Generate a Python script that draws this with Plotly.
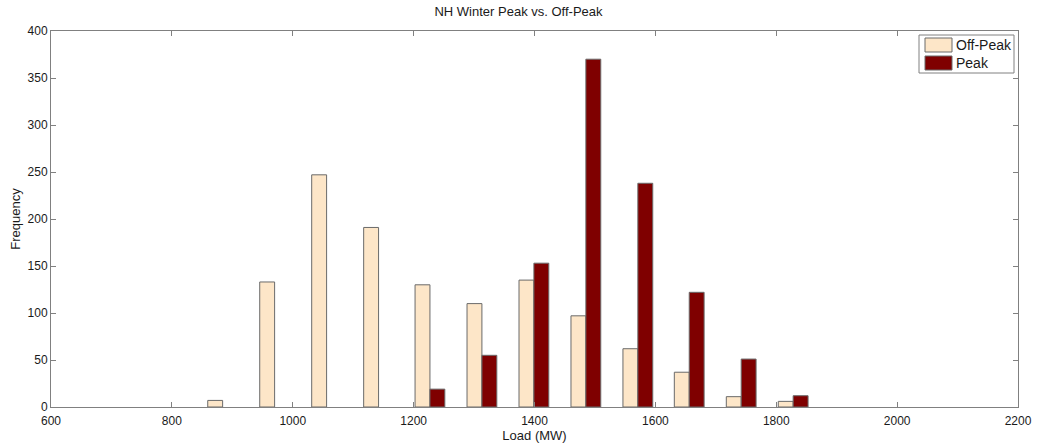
import plotly.graph_objects as go

# Histogram bin centres (MW) and counts per bin (None = empty bin)
bin_centers = [884, 970, 1056, 1142, 1227, 1313, 1399, 1485, 1571, 1656, 1742, 1828]
off_peak = [7, 133, 247, 191, 130, 110, 135, 97, 62, 37, 11, 6]
peak = [None, None, None, None, 19, 55, 153, 370, 238, 122, 51, 12]
series_names = ["Off-Peak", "Peak"]
series_colors = ["#FDE6C8", "#7F0000"]

x_ticks = [600, 800, 1000, 1200, 1400, 1600, 1800, 2000, 2200]
y_ticks = [0, 50, 100, 150, 200, 250, 300, 350, 400]

W, H = 1037, 443
M = dict(l=51, r=19, t=31, b=36)
edge = dict(color="#6a6a6a", width=1)
axis_gray = "#808080"
font_family = "Liberation Sans, Arial, sans-serif"

fig = go.Figure()
for name, color, vals in zip(series_names, series_colors, [off_peak, peak]):
    fig.add_trace(go.Bar(x=bin_centers, y=vals, name=name, showlegend=False,
                         marker=dict(color=color, line=edge)))

common_axis = dict(
    showgrid=False, zeroline=False, showline=True, linecolor=axis_gray,
    linewidth=1, mirror="ticks", ticks="inside", ticklen=5,
    tickcolor=axis_gray, tickfont=dict(size=12, color="#1a1a1a"),
    automargin=False,
)

# MATLAB-style legend box with wide colour patches (pixel -> paper helpers)
pw, ph = W - M["l"] - M["r"], H - M["t"] - M["b"]
def px(x):
    return (x - M["l"]) / pw
def py(y):
    return (H - M["b"] - y) / ph

shapes = [dict(type="rect", xref="paper", yref="paper",
               x0=px(919), x1=px(1014), y0=py(73), y1=py(35),
               line=dict(color=axis_gray, width=1), fillcolor="white")]
annotations = []
for i, (name, color) in enumerate(zip(series_names, series_colors)):
    top = 38 + i * 18
    shapes.append(dict(type="rect", xref="paper", yref="paper",
                       x0=px(925), x1=px(952), y0=py(top + 14), y1=py(top),
                       line=dict(color="#6a6a6a", width=1), fillcolor=color))
    annotations.append(dict(text=name, xref="paper", yref="paper",
                            x=px(954), y=py(top + 7), xanchor="left",
                            yanchor="middle", showarrow=False,
                            font=dict(size=14, color="#1a1a1a")))

fig.update_layout(
    width=W, height=H, margin=M,
    paper_bgcolor="white", plot_bgcolor="white",
    font=dict(family=font_family, size=12, color="#1a1a1a"),
    barmode="group", bargap=0.42, bargroupgap=0,
    title=dict(text="NH Winter Peak vs. Off-Peak", x=0.5, xanchor="center",
               y=0.985, yanchor="top", font=dict(size=13), automargin=False),
    xaxis=dict(range=[600, 2200], tickvals=x_ticks, ticklabelstandoff=3,
               title=dict(text="Load (MW)", standoff=0, font=dict(size=13)),
               **common_axis),
    yaxis=dict(range=[0, 400], tickvals=y_ticks,
               title=dict(text="Frequency", standoff=4, font=dict(size=13)),
               **common_axis),
    shapes=shapes, annotations=annotations,
)

fig.write_html("out.html")
